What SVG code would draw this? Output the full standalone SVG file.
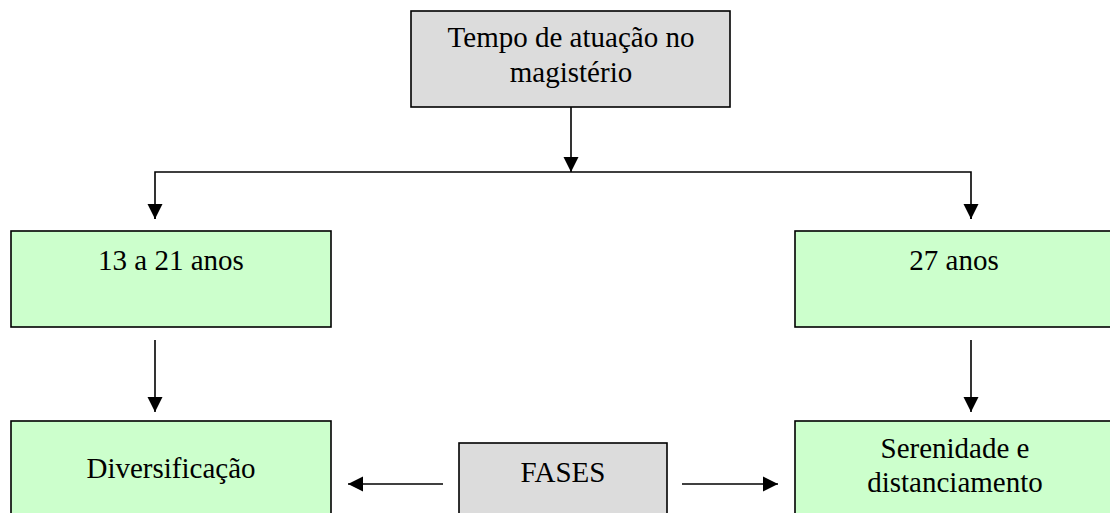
<svg xmlns="http://www.w3.org/2000/svg" width="1110" height="513" viewBox="0 0 1110 513">
<defs>
<style>
.box{stroke:#000;stroke-width:1.6}
.gray{fill:#dcdcdc}
.green{fill:#ccffcc}
.t{font-family:"Liberation Serif","Times New Roman",serif;font-size:29px;fill:#000;text-anchor:middle}
.c{stroke:#000;stroke-width:1.6;fill:none}
</style>
<marker id="ah" viewBox="0 0 10 10" refX="10" refY="5" markerWidth="15" markerHeight="16" markerUnits="userSpaceOnUse" orient="auto">
<path d="M0,0 L10,5 L0,10 Z" fill="#000"/>
</marker>
</defs>
<rect width="1110" height="513" fill="#fff"/>
<g id="connectors">
<line class="c" x1="571" y1="107" x2="571" y2="172" marker-end="url(#ah)"/>
<polyline class="c" points="155,219 155,172 971,172 971,219"/>
<line class="c" x1="155" y1="205" x2="155" y2="219" marker-end="url(#ah)"/>
<line class="c" x1="971" y1="205" x2="971" y2="219" marker-end="url(#ah)"/>
<line class="c" x1="155" y1="340" x2="155" y2="412" marker-end="url(#ah)"/>
<line class="c" x1="971" y1="340" x2="971" y2="412" marker-end="url(#ah)"/>
<line class="c" x1="443" y1="484" x2="348" y2="484" marker-end="url(#ah)"/>
<line class="c" x1="682" y1="484" x2="778" y2="484" marker-end="url(#ah)"/>
</g>
<g id="node-tempo">
<rect class="box gray" x="411" y="11" width="319" height="96"/>
<text class="t" x="571" y="47">Tempo de atuação no</text>
<text class="t" x="571" y="82">magistério</text>
</g>
<g id="node-13a21">
<rect class="box green" x="11" y="231" width="320" height="96"/>
<text class="t" x="171" y="270">13 a 21 anos</text>
</g>
<g id="node-27">
<rect class="box green" x="795" y="231" width="330" height="96"/>
<text class="t" x="954" y="270">27 anos</text>
</g>
<g id="node-diversificacao">
<rect class="box green" x="11" y="421" width="320" height="110"/>
<text class="t" x="171" y="478">Diversificação</text>
</g>
<g id="node-fases">
<rect class="box gray" x="459" y="443" width="208" height="90"/>
<text class="t" x="563" y="482">FASES</text>
</g>
<g id="node-serenidade">
<rect class="box green" x="795" y="421" width="330" height="110"/>
<text class="t" x="955" y="458">Serenidade e</text>
<text class="t" x="955" y="492">distanciamento</text>
</g>
</svg>
